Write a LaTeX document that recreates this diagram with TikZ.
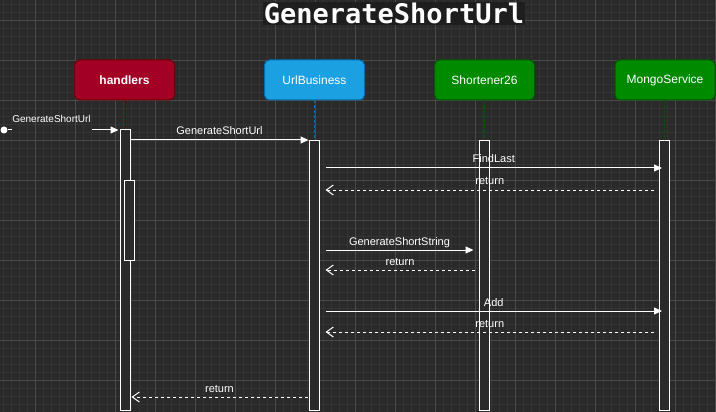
\documentclass[tikz,border=0pt]{standalone}
\usepackage{fontspec}
\setmainfont{Liberation Sans}
\newfontfamily\titlefont{DejaVu Sans Mono}
\usetikzlibrary{arrows.meta,calc}
\definecolor{bg}{HTML}{2A2A2A}
\definecolor{gridminor}{HTML}{343434}
\definecolor{gridmajor}{HTML}{4A4A4A}
\definecolor{titlebg}{HTML}{1E1E1E}
\definecolor{redfill}{HTML}{A20025}
\definecolor{redline}{HTML}{6F0000}
\definecolor{bluefill}{HTML}{1BA1E2}
\definecolor{blueline}{HTML}{006EAF}
\definecolor{greenfill}{HTML}{008A00}
\definecolor{greenline}{HTML}{005700}
\tikzset{
  minorgrid/.style={draw=gridminor, line width=0.8pt},
  majorgrid/.style={draw=gridmajor, line width=0.8pt},
  titlestyle/.style={fill=titlebg, inner sep=1pt, text=white, font=\titlefont\bfseries\fontsize{27}{30}\selectfont},
  actor/.style={rounded corners=5pt, line width=1pt, minimum width=100pt, minimum height=40pt, inner sep=0pt, text=white, font=\fontsize{12}{14}\selectfont},
  actbox/.style={draw=white, fill=bg, line width=1pt, minimum width=10pt, inner sep=0pt},
  lifeline/.style={line width=0.8pt, dash pattern=on 3pt off 2pt},
  lbl/.style={text=white, inner sep=0pt, font=\fontsize{11}{13}\selectfont},
  plain/.style={draw=white, line width=1pt},
  msg/.style={draw=white, line width=1pt, -{Triangle[length=8pt,width=7pt]}},
  ret/.style={draw=white, line width=1pt, dash pattern=on 3pt off 3pt, -{Straight Barb[length=7pt,width=10pt,line width=1pt]}},
  startdot/.style={circle, fill=white, minimum size=7pt, inner sep=0pt}
}
\begin{document}
\begin{tikzpicture}[x=1pt,y=-1pt]
\useasboundingbox (0,0) rectangle (716,412);
\fill[bg] (0,0) rectangle (716,412);
\foreach \x in {3,11,...,715} \draw[minorgrid] (\x,0) -- (\x,412);
\foreach \y in {4,12,...,404} \draw[minorgrid] (0,\y) -- (716,\y);
\foreach \x in {35,75,...,715} \draw[majorgrid] (\x,0) -- (\x,412);
\foreach \y in {20,60,...,380} \draw[majorgrid] (0,\y) -- (716,\y);

% title
\node[titlestyle, anchor=base] (title) at (394,24) {GenerateShortUrl};

% participants
\node[actor, fill=redfill, draw=redline, font=\fontsize{12}{14}\selectfont\bfseries] (hbox) at (124.5,80) {handlers};
\node[actor, fill=bluefill, draw=blueline] (ubox) at (314.5,80) {UrlBusiness};
\node[actor, fill=greenfill, draw=greenline] (sbox) at (484.5,80) {Shortener26};
\node[actor, fill=greenfill, draw=greenline] (mbox) at (665,80) {MongoService};

% activations
\node[actbox, minimum height=280pt] (hact) at (125,270) {};
\node[actbox, minimum height=80pt] (hnest) at (129,220) {};
\node[actbox, minimum height=269pt] (uact) at (314,275.5) {};
\node[actbox, minimum height=269pt] (sact) at (484,275.5) {};
\node[actbox, minimum height=269pt] (mact) at (664.5,275.5) {};

% lifelines
\draw[lifeline, draw=redline] (hact.north |- hbox.south) -- (hact.north);
\draw[lifeline, draw=blueline] (uact.north |- ubox.south) -- (uact.north);
\draw[lifeline, draw=greenline] (sact.north |- sbox.south) -- (sact.north);
\draw[lifeline, draw=greenline] (mact.north |- mbox.south) -- (mact.north);

% message levels
\coordinate (y0) at (0,130);
\coordinate (y1) at (0,140);
\coordinate (y2) at (0,168);
\coordinate (y3) at (0,190);
\coordinate (y4) at (0,250);
\coordinate (y5) at (0,270);
\coordinate (y6) at (0,311);
\coordinate (y7) at (0,332);
\coordinate (y8) at (0,397);

% found message
\node[startdot] (start) at (4,130) {};
\coordinate (f1) at (12,130);
\coordinate (f2) at (92,130);
\draw[plain] (start) -- (f1);
\draw[msg] (f2) -- ($(hact.west |- y0)+(-1,0)$);
\node[lbl, anchor=base, font=\fontsize{10}{12}\selectfont] (foundlbl) at (51.5,123) {GenerateShortUrl};

% messages
\draw[msg] (hact.east |- y1) -- (uact.west |- y1)
  node[lbl, midway, anchor=base, yshift=5pt] (l1) {GenerateShortUrl};
\draw[msg] ($(uact.east |- y2)+(6,0)$) -- ($(mact.west |- y2)+(3,0)$)
  node[lbl, midway, anchor=base, yshift=5pt] (l2) {FindLast};
\draw[ret] ($(mact.west |- y3)+(-5,0)$) -- ($(uact.east |- y3)+(6,0)$)
  node[lbl, midway, anchor=base, yshift=5pt] (l3) {return};
\draw[msg] ($(uact.east |- y4)+(6,0)$) -- ($(sact.west |- y4)+(-5,0)$)
  node[lbl, midway, anchor=base, yshift=5pt] (l4) {GenerateShortString};
\draw[ret] ($(sact.west |- y5)+(-4,0)$) -- ($(uact.east |- y5)+(6,0)$)
  node[lbl, midway, anchor=base, yshift=5pt] (l5) {return};
\draw[msg] ($(uact.east |- y6)+(6,0)$) -- ($(mact.west |- y6)+(3,0)$)
  node[lbl, midway, anchor=base, yshift=5pt] (l6) {Add};
\draw[ret] ($(mact.west |- y7)+(-5,0)$) -- ($(uact.east |- y7)+(6,0)$)
  node[lbl, midway, anchor=base, yshift=5pt] (l7) {return};
\draw[ret] ($(uact.west |- y8)+(-1,0)$) -- ($(hact.east |- y8)+(1,0)$)
  node[lbl, midway, anchor=base, yshift=5pt] (l8) {return};
\end{tikzpicture}
\end{document}
